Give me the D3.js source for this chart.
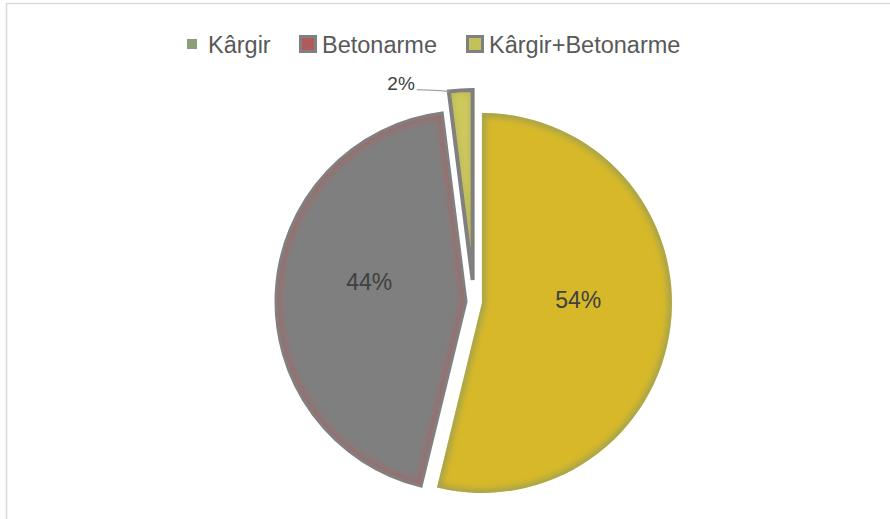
<!DOCTYPE html>
<html>
<head>
<meta charset="utf-8">
<script src="https://cdn.jsdelivr.net/npm/d3@7/dist/d3.min.js"></script>
<style>
  body { margin: 0; background: #fff; }
  svg { display: block; font-family: "Liberation Sans", Arial, sans-serif; }
</style>
</head>
<body>
<svg id="chart"></svg>
<script>
// data
let categories = ['Kârgir', 'Betonarme', 'Kârgir+Betonarme']
let values = [53.8, 44.2, 2.0]

// styles
const sliceFill = ['#D7B828', '#7F7F7F', '#CFC95C']
const sliceGlow = ['#8E9A5C', '#B85A5A', '#B8B45A']
const sliceStroke = ['none', '#808080', '#808080']
const legendFill = ['#8C9B78', '#AE5B5B', '#C3C15A']
const legendStroke = ['none', '#808080', '#808080']
const textColor = '#595959'
const labelColor = '#404040'

let width = 890,
    height = 519

let cx = 474, cy = 302, radius = 190

let svg = d3.select('#chart')
    .attr('width', width)
    .attr('height', height)

// chart area border (cut off at right / bottom)
svg.append('rect')
    .attr('x', 6.5)
    .attr('y', 3.5)
    .attr('width', width + 20)
    .attr('height', height + 20)
    .attr('fill', 'none')
    .attr('stroke', '#D9D9D9')
    .attr('stroke-width', 1.5)

let defs = svg.append('defs')
defs.append('filter')
    .attr('id', 'soft')
    .attr('x', '-20%').attr('y', '-20%')
    .attr('width', '140%').attr('height', '140%')
    .append('feGaussianBlur')
    .attr('stdDeviation', 3)

let pie = d3.pie().sort(null).value(d => d)
let arcs = pie(values)
let arc = d3.arc().innerRadius(0).outerRadius(radius)
let labelArc = d3.arc().innerRadius(radius * 0.51).outerRadius(radius * 0.51)

function explodeOf(i) {
    return i === 2 ? 22 : 8
}

function offset(d, i) {
    let a = (d.startAngle + d.endAngle) / 2
    let e = explodeOf(i)
    return [cx + e * Math.sin(a), cy - e * Math.cos(a)]
}

let $slices = svg.append('g').attr('class', 'slices')

arcs.forEach((d, i) => {
    let [ox, oy] = offset(d, i)
    let g = $slices.append('g')
        .attr('transform', 'translate(' + ox + ',' + oy + ')')
    let path = arc(d)

    defs.append('clipPath')
        .attr('id', 'clip' + i)
        .append('path')
        .attr('d', path)

    g.append('path')
        .attr('d', path)
        .attr('fill', sliceFill[i])

    // soft inner edge
    g.append('g')
        .attr('clip-path', 'url(#clip' + i + ')')
        .append('path')
        .attr('d', path)
        .attr('fill', 'none')
        .attr('stroke', sliceGlow[i])
        .attr('stroke-width', i === 1 ? 9 : 7)
        .attr('stroke-opacity', i === 1 ? 0.55 : 0.8)
        .attr('filter', 'url(#soft)')

    g.append('path')
        .attr('d', path)
        .attr('fill', 'none')
        .attr('stroke', sliceStroke[i])
        .attr('stroke-width', i === 2 ? 4 : 3)
        .attr('stroke-linejoin', 'miter')
})

// data labels
arcs.forEach((d, i) => {
    let [ox, oy] = offset(d, i)
    let label = Math.round(d.data / d3.sum(values) * 100) + '%'
    if (i < 2) {
        let [lx, ly] = labelArc.centroid(d)
        svg.append('text')
            .attr('x', ox + lx)
            .attr('y', oy + ly - 14)
            .attr('text-anchor', 'middle')
            .attr('dominant-baseline', 'central')
            .attr('fill', labelColor)
            .attr('font-size', '23px')
            .text(label)
    } else {
        // small slice: label outside with leader line
        let a0 = d.startAngle
        let tipX = ox + radius * Math.sin(a0)
        let tipY = oy - radius * Math.cos(a0)
        svg.append('path')
            .attr('d', d3.line()([[tipX, tipY], [tipX - 8, tipY - 1], [tipX - 32, tipY - 2]]))
            .attr('fill', 'none')
            .attr('stroke', '#A6A6A6')
            .attr('stroke-width', 1.2)
        svg.append('text')
            .attr('x', tipX - 34)
            .attr('y', tipY - 8)
            .attr('text-anchor', 'end')
            .attr('dominant-baseline', 'central')
            .attr('fill', labelColor)
            .attr('font-size', '19px')
            .text(label)
    }
})

// legend
let legendX = [187, 299, 466]
let $legend = svg.append('g').attr('class', 'legend')
categories.forEach((c, i) => {
    let g = $legend.append('g')
        .attr('transform', 'translate(' + legendX[i] + ',0)')
    if (i === 0) {
        g.append('rect')
            .attr('x', 0).attr('y', 39)
            .attr('width', 10).attr('height', 10)
            .attr('fill', legendFill[i])
    } else {
        g.append('rect')
            .attr('x', 1.5).attr('y', 36.5)
            .attr('width', 15).attr('height', 15)
            .attr('fill', legendFill[i])
            .attr('stroke', legendStroke[i])
            .attr('stroke-width', 3)
    }
    g.append('text')
        .attr('x', i === 0 ? 21 : 23)
        .attr('y', 53)
        .attr('fill', textColor)
        .attr('font-size', '23.5px')
        .text(c)
})
</script>
</body>
</html>
